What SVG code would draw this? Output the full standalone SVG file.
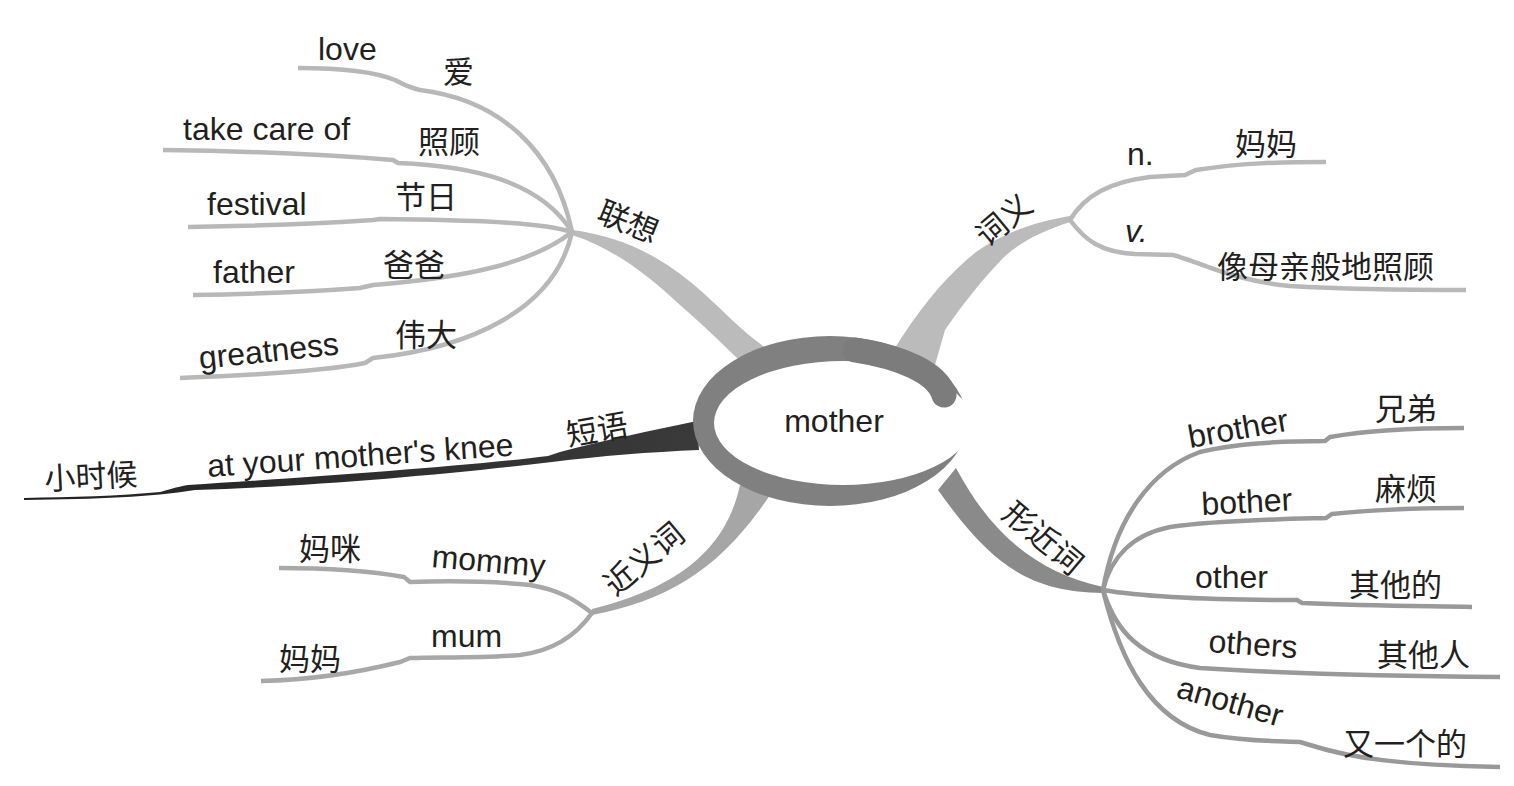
<svg xmlns="http://www.w3.org/2000/svg" width="1514" height="786" viewBox="0 0 1514 786">
<style>
.en{font-family:"Liberation Sans",Arial,sans-serif;font-size:32px;fill:#231f20}
.zh{font-family:"Noto Sans CJK SC","Noto Sans CJK TC",sans-serif;font-size:31px;fill:#231f20}
.l1{fill:none;stroke:#b8b8b8;stroke-width:4.5}
.l2{fill:none;stroke:#a8a8a8;stroke-width:4.5}
.l3{fill:none;stroke:#999;stroke-width:4.5}
</style>
<defs>
<linearGradient id="dark" x1="0" y1="0" x2="1" y2="0">
<stop offset="0" stop-color="#222"/>
<stop offset="1" stop-color="#3a3a3a"/>
</linearGradient>
</defs>
<rect width="1514" height="786" fill="#fff"/>
<g id="connectors">
<path d="M572 230 C620 236 660 255 700 290 C725 312 745 335 772 352 L745 366 C725 346 700 322 680 305 C645 272 610 247 572 235 Z" fill="#bbb"/>
<path d="M885 365 C905 330 935 285 976 252 C1005 232 1035 222 1070 216 L1070 222 C1040 232 1020 242 1003 258 C982 280 962 305 945 330 L935 365 Z" fill="#bbb"/>
<path d="M697 421 C650 431 600 441 560 452 L548 456 C470 466 300 478 188 485 C176 487 168 490 160 492 C120 496 70 497 24 498 L24 500 C100 499 150 497 195 490 C320 486 450 474 552 462 C600 456 650 452 699 450 Z" fill="url(#dark)"/>
<path d="M740 485 C728 540 690 585 592 609 L592 615 C670 600 722 568 772 492 Z" fill="#a6a6a6"/>
<path d="M956 468 C988 528 1032 572 1103 587 L1103 593 C1030 592 992 566 938 490 Z" fill="#8a8a8a"/>
<path class="l1" d="M298 68 C340 68 375 72 395 80 Q410 88 420 90 C500 100 555 150 572 232"/>
<path class="l1" d="M163 150 C250 151 330 155 393 160 L398 163 C470 166 540 180 572 232"/>
<path class="l1" d="M188 227 C260 226 330 223 373 220 L380 219 C470 220 540 222 572 232"/>
<path class="l1" d="M193 295 C260 294 320 291 360 288 L373 285 C460 278 530 265 572 232"/>
<path class="l1" d="M180 378 C260 375 330 370 365 363 L373 358 C470 348 555 310 572 232"/>
<path class="l1" d="M1070 220 C1085 195 1110 182 1150 177 L1185 175 L1196 170 C1240 163 1280 162 1326 162"/>
<path class="l1" d="M1070 220 C1085 240 1100 252 1135 254 L1173 255 C1200 262 1230 280 1290 286 C1360 290 1420 290 1466 290"/>
<path class="l2" d="M592 613 C575 600 560 590 530 585 C480 580 440 581 410 582 L404 577 C370 571 320 568 279 568"/>
<path class="l2" d="M592 613 C580 630 560 650 520 655 C480 658 440 657 410 658 L400 662 C360 672 310 680 261 681"/>
<path class="l3" d="M1103 590 C1115 520 1150 470 1200 452 C1240 442 1290 441 1325 441 L1330 437 C1370 430 1420 428 1464 428"/>
<path class="l3" d="M1103 590 C1110 560 1130 535 1170 527 C1220 520 1290 519 1326 518 L1332 514 C1380 509 1420 508 1464 508"/>
<path class="l3" d="M1103 590 C1150 598 1230 600 1297 600 L1302 603 C1370 606 1420 606 1472 607"/>
<path class="l3" d="M1103 590 C1115 630 1140 660 1200 668 C1280 673 1380 676 1500 677"/>
<path class="l3" d="M1103 590 C1120 660 1150 720 1210 735 C1250 742 1280 741 1300 742 L1310 745 C1350 758 1400 765 1500 767"/>
</g>
<g id="center">
<ellipse cx="830" cy="421" rx="137" ry="85" fill="#808080"/>
<ellipse cx="843" cy="423" rx="129" ry="62" fill="#fff"/>
<path d="M855 350 C900 357 937 372 944 395" fill="none" stroke="#7c7c7c" stroke-width="25" stroke-linecap="round"/>
<text class="en" x="834" y="432" text-anchor="middle">mother</text>
</g>
<g id="lianxiang">
<text class="zh" transform="translate(628,222) rotate(22)" x="0" y="11" text-anchor="middle">联想</text>
</g>
<g id="love"><text class="en" x="318" y="60">love</text><text class="zh" x="443" y="83">爱</text></g>
<g id="takecare"><text class="en" x="183" y="140">take care of</text><text class="zh" x="418" y="153">照顾</text></g>
<g id="festival"><text class="en" x="207" y="215">festival</text><text class="zh" x="395" y="208">节日</text></g>
<g id="father"><text class="en" x="213" y="283">father</text><text class="zh" x="383" y="276">爸爸</text></g>
<g id="greatness"><text class="en" transform="translate(200,369) rotate(-6)">greatness</text><text class="zh" x="395" y="346">伟大</text></g>
<g id="duanyu">
<text class="zh" transform="translate(597,430) rotate(-10)" x="0" y="11" text-anchor="middle">短语</text>
</g>
<g id="knee"><text class="en" transform="translate(208,477) rotate(-4)">at your mother's knee</text><text class="zh" transform="translate(45,490) rotate(-3)">小时候</text></g>
<g id="jinyici">
<text class="zh" transform="translate(644,559) rotate(-40)" x="0" y="11" text-anchor="middle">近义词</text>
</g>
<g id="mommy"><text class="en" transform="translate(431,567) rotate(5)">mommy</text><text class="zh" x="299" y="560">妈咪</text></g>
<g id="mum"><text class="en" x="431" y="647">mum</text><text class="zh" x="279" y="670">妈妈</text></g>
<g id="ciyi">
<text class="zh" transform="translate(1004,220) rotate(-40)" x="0" y="11" text-anchor="middle">词义</text>
</g>
<g id="noun"><text class="en" x="1127" y="165">n.</text><text class="zh" x="1235" y="155">妈妈</text></g>
<g id="verb"><text class="en" x="1125" y="242" font-style="italic">v.</text><text class="zh" x="1217" y="278">像母亲般地照顾</text></g>
<g id="xingjinci">
<text class="zh" transform="translate(1043,538) rotate(40)" x="0" y="11" text-anchor="middle">形近词</text>
</g>
<g id="brother"><text class="en" transform="translate(1190,448) rotate(-10)">brother</text><text class="zh" x="1375" y="420">兄弟</text></g>
<g id="bother"><text class="en" transform="translate(1202,515) rotate(-3)">bother</text><text class="zh" x="1375" y="500">麻烦</text></g>
<g id="other"><text class="en" x="1195" y="588">other</text><text class="zh" x="1349" y="596">其他的</text></g>
<g id="others"><text class="en" transform="translate(1208,652) rotate(4)">others</text><text class="zh" x="1377" y="666">其他人</text></g>
<g id="another"><text class="en" transform="translate(1175,697) rotate(16)">another</text><text class="zh" x="1343" y="755">又一个的</text></g>
</svg>
